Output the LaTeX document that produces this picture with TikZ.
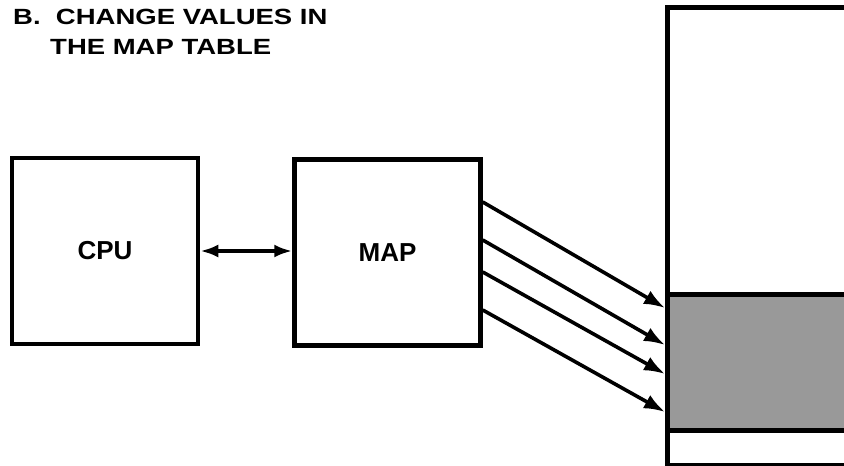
\documentclass[tikz,border=0pt]{standalone}
\usepackage{fontspec}
\setmainfont{Liberation Sans}
\usetikzlibrary{arrows.meta,positioning}

\begin{document}
\begin{tikzpicture}[x=1pt, y=-1pt,
    box/.style={draw, line width=4.5pt, inner sep=0pt, font=\bfseries\fontsize{26}{30}\selectfont},
    unit/.style={box, minimum width=186pt, minimum height=186pt},
    heading/.style={align=left, inner sep=0pt, font=\bfseries\fontsize{22}{30}\selectfont},
    arrow/.style={-{Latex[length=21pt,width=15pt]}, line width=3.6pt},
    link/.style={{Latex[length=18pt,width=13pt]}-{Latex[length=18pt,width=13pt]}, line width=3.6pt}
  ]
    \clip (0,0) rectangle (844,466);
    \node[heading, anchor=north west] (title) at (13,9)
      {\scalebox{1.25}[1]{B.\ \ CHANGE VALUES IN}\\\hspace{37pt}\scalebox{1.25}[1]{THE MAP TABLE}};
    \node[unit] (cpu) at (105,251) {CPU};
    \node[unit] (map) at (387.5,252.5) {MAP};
    % memory with the mapped page
    \node[box, fill=black!40, minimum width=200pt, minimum height=136pt, anchor=north west] (page) at (665,292) {};
    \node[box, minimum width=200pt, minimum height=458pt, anchor=north west] (mem) at (665,5) {};
    \draw[link] (cpu.east) -- (cpu.east -| map.west);
    \foreach \i/\ys/\ye in {1/202/308, 2/240/345, 3/272/374, 4/310/412} {
      \coordinate (s\i) at (map.east |- 0,\ys);
      \coordinate (e\i) at (mem.west |- 0,\ye);
      \draw[arrow] (s\i) -- (e\i);
    }
\end{tikzpicture}
\end{document}
